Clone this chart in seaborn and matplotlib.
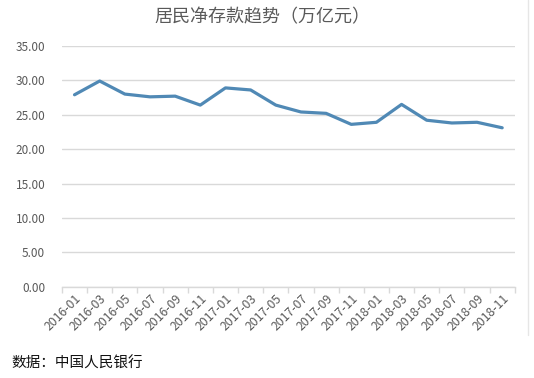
import matplotlib
matplotlib.use("Agg")
import matplotlib.pyplot as plt
import seaborn as sns
import pandas as pd
import numpy as np
from matplotlib.lines import Line2D

months = ["2016-01", "2016-03", "2016-05", "2016-07", "2016-09", "2016-11",
          "2017-01", "2017-03", "2017-05", "2017-07", "2017-09", "2017-11",
          "2018-01", "2018-03", "2018-05", "2018-07", "2018-09", "2018-11"]
deposits = [27.9, 29.9, 28.0, 27.6, 27.7, 26.4,
            28.9, 28.6, 26.4, 25.4, 25.2, 23.6,
            23.9, 26.5, 24.2, 23.8, 23.9, 23.1]
y_ticks = [0, 5, 10, 15, 20, 25, 30, 35]

title = "居民净存款趋势（万亿元）"
source = "数据：中国人民银行"

sns.set_theme(style="white")
plt.rcParams['font.family'] = ['Noto Sans CJK SC', 'DejaVu Sans']

df = pd.DataFrame({"month": months, "value": deposits})

fig = plt.figure(figsize=(5.34, 3.78), dpi=100)
ax = fig.add_axes([0.116, 0.2415, 0.848, 0.637])

sns.lineplot(data=df, x="month", y="value", ax=ax, color="#5089b5",
             linewidth=2.3, sort=False)

ax.set_ylim(0, 35)
ax.set_xlim(-0.5, len(months) - 0.5)
ax.set_yticks(y_ticks)
ax.set_yticklabels([f"{v:.2f}" for v in y_ticks], color="#595959", fontsize=8.5)
ax.yaxis.grid(True, color="#d9d9d9", linewidth=1.0)
ax.set_axisbelow(True)

ax.set_xticks(range(len(months)))
ax.set_xticklabels(months, rotation=45, ha="right", rotation_mode="anchor",
                   color="#595959", fontsize=8.8)
ax.set_xticks(np.arange(-0.5, len(months), 1.0), minor=True)
ax.tick_params(axis="x", which="major", length=0, pad=4)
ax.tick_params(axis="x", which="minor", length=4, color="#d9d9d9", width=1, bottom=True)
ax.tick_params(axis="y", length=0, pad=12)

for s in ["top", "right", "left"]:
    ax.spines[s].set_visible(False)
ax.spines["bottom"].set_color("#d9d9d9")
ax.spines["bottom"].set_linewidth(1.0)

ax.set_xlabel("")
ax.set_ylabel("")

fig.text(0.492, 0.955, title, ha="center", va="center", fontsize=13, color="#595959")
fig.text(0.022, 0.037, source, ha="left", va="center", fontsize=10.5, color="#111111")

fig.add_artist(Line2D([0.989, 0.989], [1.0, 0.115], transform=fig.transFigure,
                      color="#e6e6e6", linewidth=1.0))

fig.savefig("out.png", dpi=100)
